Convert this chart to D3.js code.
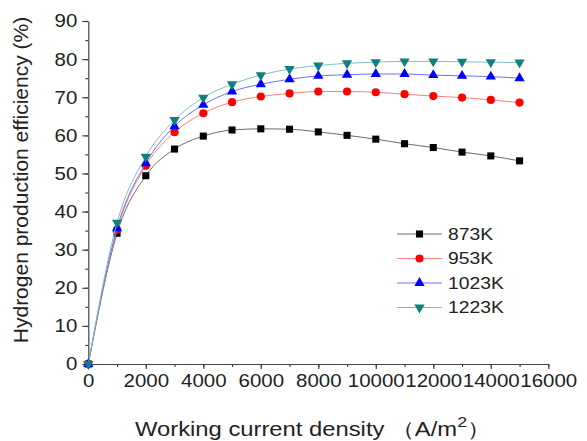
<!DOCTYPE html>
<html>
<head>
<meta charset="utf-8">
<script src="https://cdn.jsdelivr.net/npm/d3@7"></script>
<style>
  body { margin: 0; background: #fff; }
  text { font-family: "Liberation Sans", Arial, sans-serif; fill: #222; }
</style>
</head>
<body>
<script>
//Chart data
var currentDensity = [0, 1000, 2000, 3000, 4000, 5000, 6000, 7000, 8000, 9000, 10000, 11000, 12000, 13000, 14000, 15000];
var eff873 = [0, 34.3, 49.4, 56.4, 59.8, 61.4, 61.7, 61.6, 60.9, 60.0, 59.0, 57.8, 56.8, 55.6, 54.6, 53.3];
var eff953 = [0, 35.2, 52.0, 60.8, 65.8, 68.7, 70.2, 71.0, 71.5, 71.5, 71.3, 70.8, 70.3, 69.9, 69.3, 68.6];
var eff1023 = [0, 35.6, 52.7, 62.4, 68.0, 71.5, 73.4, 74.7, 75.6, 75.9, 76.1, 76.1, 75.8, 75.6, 75.4, 75.0];
var eff1223 = [0, 37.1, 54.4, 64.0, 69.9, 73.4, 75.8, 77.4, 78.3, 78.9, 79.2, 79.4, 79.4, 79.3, 79.2, 79.1];
var seriesNames = ["873K", "953K", "1023K", "1223K"];
var xTicks = [0, 2000, 4000, 6000, 8000, 10000, 12000, 14000, 16000];
var yTicks = [0, 10, 20, 30, 40, 50, 60, 70, 80, 90];

var series = [
  {name: seriesNames[0], values: eff873, color: "#000000", line: "#6b6b6b", symbol: d3.symbolSquare, size: 50, rot: 0},
  {name: seriesNames[1], values: eff953, color: "#ff0000", line: "#ff8080", symbol: d3.symbolCircle, size: 52, rot: 0},
  {name: seriesNames[2], values: eff1023, color: "#0000ff", line: "#7070ff", symbol: d3.symbolTriangle, size: 46, rot: 0},
  {name: seriesNames[3], values: eff1223, color: "#0f7f7f", line: "#80c0c0", symbol: d3.symbolTriangle, size: 46, rot: 180}
];

//SVG size and plot margins
var width = 587,
    height = 441;
var margin = {top: 21, right: 38.7, bottom: 77, left: 88.3};

//the source picture is a bit stretched sideways, so text gets a small x-scale
var stretch = "scale(1.1,1)";

var svg = d3.select("body").append("svg")
    .attr("width", width)
    .attr("height", height);

var x = d3.scaleLinear()
    .domain([0, 16000])
    .range([margin.left, width - margin.right]);

var y = d3.scaleLinear()
    .domain([0, 90])
    .range([height - margin.bottom, margin.top]);

//minor ticks first, then major ticks with labels
svg.append("g")
    .attr("transform", "translate(0," + y(0) + ")")
    .call(d3.axisBottom(x).tickValues(d3.range(0, 16001, 1000)).tickSize(3).tickFormat(""))
    .call(function(g) { g.select(".domain").remove(); });

var xAxis = svg.append("g")
    .attr("transform", "translate(0," + y(0) + ")")
    .call(d3.axisBottom(x).tickValues(xTicks).tickSize(5).tickPadding(5).tickFormat(d3.format("d")).tickSizeOuter(0));
xAxis.selectAll("text").style("font-size", "18.6px").attr("fill", "#222").attr("transform", stretch);

svg.append("g")
    .attr("transform", "translate(" + x(0) + ",0)")
    .call(d3.axisLeft(y).tickValues(d3.range(0, 91, 5)).tickSize(3).tickFormat(""))
    .call(function(g) { g.select(".domain").remove(); });

var yAxis = svg.append("g")
    .attr("transform", "translate(" + x(0) + ",0)")
    .call(d3.axisLeft(y).tickValues(yTicks).tickSize(6).tickPadding(4).tickSizeOuter(0));
yAxis.selectAll("text").style("font-size", "18.6px").attr("fill", "#222").attr("transform", stretch);

svg.selectAll(".domain, .tick line").attr("stroke", "#444").attr("stroke-width", 1.2);

//Axis titles
svg.append("text")
    .attr("transform", "translate(135,436) scale(1.19,1)")
    .style("font-size", "20px")
    .text("Working current density （A/m")
  .append("tspan")
    .attr("dy", -9)
    .style("font-size", "15px")
    .text("2")
  .select(function() { return this.parentNode; })
  .append("tspan")
    .attr("dy", 9)
    .text("）");

svg.append("text")
    .attr("transform", "translate(28," + 180 + ") rotate(-90)")
    .attr("text-anchor", "middle")
    .style("font-size", "21px")
    .text("Hydrogen production efficiency (%)");

//Lines and markers
var line = d3.line()
    .x(function(d, i) { return x(currentDensity[i]); })
    .y(function(d) { return y(d); })
    .curve(d3.curveMonotoneX);

var groups = svg.selectAll(".series")
    .data(series)
    .enter()
    .append("g")
    .attr("class", "series");

groups.append("path")
    .attr("d", function(s) { return line(s.values); })
    .attr("fill", "none")
    .attr("stroke", function(s) { return s.line; })
    .attr("stroke-width", 1);

groups.each(function(s) {
  d3.select(this).selectAll(".pt")
    .data(s.values)
    .enter()
    .append("path")
    .attr("class", "pt")
    .attr("d", d3.symbol().type(s.symbol).size(s.size))
    .attr("transform", function(d, i) {
      return "translate(" + x(currentDensity[i]) + "," + y(d) + ") rotate(" + s.rot + ")";
    })
    .attr("fill", s.color);
});

//Legend
var legend = svg.selectAll(".legend")
    .data(series)
    .enter()
    .append("g")
    .attr("class", "legend")
    .attr("transform", function(s, i) { return "translate(397," + (234 + i * 24.5) + ")"; });

legend.append("line")
    .attr("x1", 0).attr("x2", 45)
    .attr("stroke", function(s) { return s.line; })
    .attr("stroke-width", 1);

legend.append("path")
    .attr("d", function(s) { return d3.symbol().type(s.symbol).size(s.size)(); })
    .attr("transform", function(s) { return "translate(22.5,0) rotate(" + s.rot + ")"; })
    .attr("fill", function(s) { return s.color; });

legend.append("text")
    .attr("transform", "translate(51,0) scale(1.17,1)")
    .attr("dy", "0.36em")
    .style("font-size", "16.5px")
    .text(function(s) { return s.name; });
</script>
</body>
</html>
